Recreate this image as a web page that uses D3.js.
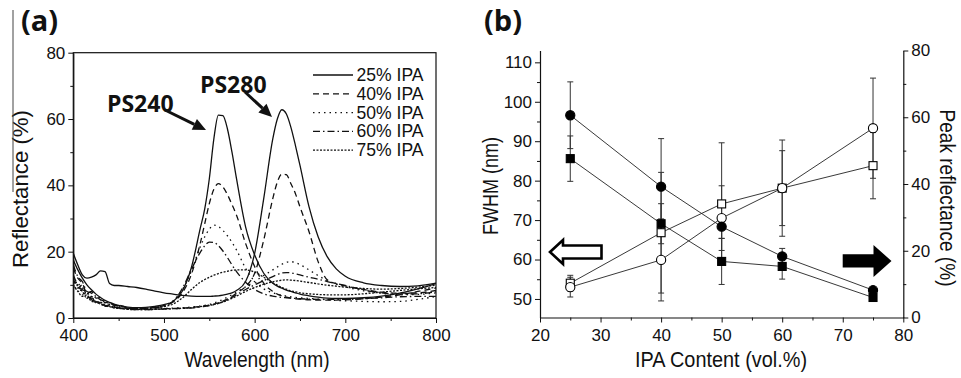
<!DOCTYPE html>
<html>
<head>
<meta charset="utf-8">
<script src="https://cdn.jsdelivr.net/npm/d3@7"></script>
<style>
  body { margin: 0; background: #fff; }
  svg { display: block; }
</style>
</head>
<body>
<div id="chart"></div>
<script>
// ---------- panel (a): reflectance spectra ----------
const wavelength = [400, 405, 410, 415, 420, 425, 430, 435, 440, 445, 450, 460, 470, 480, 490, 500, 510, 520, 530, 540,
  545, 550, 555, 560, 565, 570, 575, 580, 590, 600, 610, 620, 625, 630, 635, 640, 645, 650, 660, 670, 680, 690, 700,
  720, 740, 760, 780, 800];

// PS240 curves
const r25ps240 = [17.5, 14.5, 12, 10, 8.5, 7.2, 6.2, 5.3, 4.7, 4.2, 3.8, 3.3, 3.1, 3.2, 3.5, 4.0, 5.0, 8, 15, 27,
  33, 42, 54, 61.2, 61.0, 57, 50, 42, 27.5, 19, 13.5, 10.5, 9.6, 9, 8.4, 8, 7.6, 7.2, 6.7, 6.3, 6.0, 5.9, 5.9,
  6.1, 6.6, 7.5, 8.8, 10.4];
const r40ps240 = [15, 12, 10.5, 7.5, 8, 6, 6.2, 4.6, 4.8, 3.8, 3.9, 3.1, 2.8, 2.9, 3.2, 3.7, 4.8, 7.5, 13, 22.5,
  28.5, 34.5, 38.8, 40.5, 39.5, 37.2, 34.2, 31, 22.5, 15.5, 10.5, 8.0, 7.2, 6.7, 6.3, 6.0, 5.8, 5.7, 5.5, 5.4, 5.4, 5.4, 5.5,
  5.8, 6.3, 7.0, 8.0, 9.0];
const r50ps240 = [11, 8, 9, 6, 6.5, 5, 5.5, 4, 4.2, 3.5, 3.4, 3.0, 2.8, 2.9, 3.2, 3.8, 5.2, 8.5, 14, 21.5,
  24.5, 26.8, 28, 27.6, 26.4, 24.8, 22.8, 20.5, 15, 11, 8.8, 7.6, 7.2, 6.9, 6.6, 6.4, 6.2, 6.1, 5.9, 5.7, 5.5, 5.3, 5.2,
  5.0, 4.9, 5.0, 5.6, 6.5];
const r60ps240 = [16, 12.5, 11, 8, 7.5, 6.5, 5.5, 5, 4.3, 4, 3.6, 3.0, 2.8, 2.8, 3.1, 3.6, 5.0, 8.8, 14.5, 19.8,
  21.8, 22.9, 22.8, 21.8, 20.2, 18.2, 16, 14, 10.8, 8.6, 7.3, 6.6, 6.4, 6.2, 6.1, 6.0, 5.9, 5.8, 5.7, 5.6, 5.6, 5.6, 5.6,
  5.8, 6.1, 6.4, 6.5, 6.5];
const r75ps240 = [10, 8, 6.5, 7, 5, 4.8, 4.2, 3.7, 3.6, 3.3, 3.1, 2.9, 2.8, 2.9, 3.1, 3.4, 4.2, 6, 8.5, 10.8,
  11.6, 12.3, 12.9, 13.4, 13.8, 14.1, 14.4, 14.5, 14.5, 13.8, 12.3, 10.6, 9.9, 9.2, 8.7, 8.2, 7.9, 7.6, 7.3, 7.1, 7.0, 7.0, 7.0,
  7.3, 7.8, 8.3, 8.8, 9.2];

// PS280 curves
const r25ps280 = [19.5, 16, 13, 12, 12.3, 13, 14.2, 14.0, 10.4, 9.8, 9.8, 9.5, 9.2, 8.7, 8.1, 7.6, 7.2, 6.8, 6.6, 6.5,
  6.5, 6.5, 6.6, 6.7, 6.9, 7.2, 7.6, 8.3, 11, 19.5, 36, 54, 60, 62.8, 61.5, 57.5, 52, 46, 33.5, 24.5, 18.5, 14.8, 12.6,
  10.6, 9.8, 9.5, 9.7, 10.5];
const r40ps280 = [12, 9, 10, 6.5, 6, 5, 4.6, 3.5, 4, 3.2, 3.3, 2.8, 2.6, 2.6, 2.7, 2.8, 2.9, 3.0, 3.2, 3.5,
  3.7, 3.9, 4.2, 4.6, 5.1, 5.7, 6.5, 7.5, 9.5, 13.5, 23.5, 36, 41, 43.4, 43.2, 40.5, 37.5, 33.5, 26, 17, 11.5, 10.3, 9.7,
  8.6, 7.8, 7.5, 7.6, 8.3];
const r50ps280 = [9, 11, 7, 7.5, 5, 5.5, 4, 4.2, 3.3, 3.5, 3.0, 2.7, 2.6, 2.7, 2.8, 2.9, 3.0, 3.1, 3.3, 3.6,
  3.8, 4.1, 4.5, 5.0, 5.6, 6.3, 7.0, 7.8, 9.4, 11, 12.8, 14.5, 15.4, 16.2, 16.8, 17, 16.7, 16.1, 14.5, 12.8, 11.3, 10.2, 9.4,
  8.2, 7.4, 7.0, 7.1, 7.6];
const r60ps280 = [13, 10, 8.5, 8, 5.5, 5, 4.3, 3.8, 3.5, 3.1, 3.0, 2.7, 2.5, 2.5, 2.6, 2.7, 2.8, 2.9, 3.0, 3.3,
  3.5, 3.7, 4.0, 4.4, 4.9, 5.5, 6.2, 7.0, 8.6, 10, 11.3, 12.5, 13.1, 13.6, 13.7, 13.6, 13.3, 13.0, 12.3, 11.7, 11.0, 10.4, 9.8,
  8.5, 7.6, 7.2, 7.3, 7.9];
const r75ps280 = [12, 9.5, 8, 6, 6.5, 4.5, 4.8, 3.6, 3.4, 3.0, 2.9, 2.6, 2.5, 2.5, 2.6, 2.7, 2.8, 2.9, 3.1, 3.4,
  3.6, 3.8, 4.1, 4.4, 4.8, 5.3, 5.9, 6.6, 8.0, 9.2, 10.2, 10.9, 11.2, 11.4, 11.5, 11.4, 11.3, 11.1, 10.7, 10.3, 9.9, 9.6, 9.3,
  8.9, 8.7, 8.9, 9.3, 9.9];

const ipaLabels = ['25% IPA', '40% IPA', '50% IPA', '60% IPA', '75% IPA'];

// ---------- panel (b): FWHM and peak reflectance vs IPA ----------
const ipaContent = [25, 40, 50, 60, 75];
const fwhmCircle = [53.0, 59.9, 70.5, 78.1, 93.3];      // open circles, left axis
const fwhmCircleErr = [2.5, 10.4, 8.2, 12.2, 12.7];
const fwhmSquare = [54.0, 66.8, 74.1, 78.1, 83.8];      // open squares, left axis
const fwhmSquareErr = [2.0, 15.3, 15.5, 9.5, 8.4];
const peakCircle = [60.6, 39.2, 27.2, 18.3, 8.2];       // filled circles, right axis
const peakCircleErr = [10.0, 14.4, 3.5, 2.4, 0];
const peakSquare = [47.6, 28.1, 16.8, 15.3, 6.0];       // filled squares, right axis
const peakSquareErr = [6.8, 6.0, 6.9, 3.8, 0];

const FONT = "'Liberation Sans', Arial, sans-serif";
const INK = '#111';

const svg = d3.select('#chart').append('svg').attr('width', 961).attr('height', 378);

function styleAxis(g, withDomain) {
  g.attr('font-family', FONT).attr('font-size', 17);
  if (withDomain) g.select('.domain').attr('stroke', INK).attr('stroke-width', 1.2);
  else g.select('.domain').remove();
  g.selectAll('.tick line').attr('stroke', INK).attr('stroke-width', 1);
  g.selectAll('.tick text').attr('fill', INK);
}

function addAxis(axisFn, scale, translate, major, minor, pad) {
  const gMinor = svg.append('g').attr('transform', translate)
    .call(axisFn(scale).tickValues(minor).tickSize(3).tickFormat(''));
  styleAxis(gMinor, false);
  const g = svg.append('g').attr('transform', translate)
    .call(axisFn(scale).tickValues(major).tickSize(5).tickSizeOuter(0).tickPadding(pad).tickFormat(d3.format('d')));
  styleAxis(g, true);
  return g;
}

function addText(x, y, text, opts = {}) {
  const t = svg.append('text')
    .attr('x', x).attr('y', y)
    .attr('font-family', opts.family || FONT)
    .attr('font-size', opts.size || 19)
    .attr('font-weight', opts.weight || 'normal')
    .attr('text-anchor', opts.anchor || 'start')
    .attr('fill', INK)
    .text(text);
  if (opts.rotate) t.attr('transform', `rotate(${opts.rotate},${x},${y})`);
  if (opts.length) t.attr('textLength', opts.length).attr('lengthAdjust', 'spacingAndGlyphs');
  return t;
}

// ================= panel (a) =================
const xA = d3.scaleLinear().domain([400, 800]).range([73.3, 436]);
const yA = d3.scaleLinear().domain([0, 80]).range([318, 52.7]);

svg.append('clipPath').attr('id', 'clipA')
  .append('rect').attr('x', xA(400)).attr('y', yA(80)).attr('width', xA(800) - xA(400)).attr('height', yA(0) - yA(80));

const dashes = [null, '6,4', '1.5,4', '7,3,1.5,3', '2,1.5'];
const spectra = [
  { label: ipaLabels[0], dash: dashes[0], curves: [r25ps240, r25ps280] },
  { label: ipaLabels[1], dash: dashes[1], curves: [r40ps240, r40ps280] },
  { label: ipaLabels[2], dash: dashes[2], curves: [r50ps240, r50ps280] },
  { label: ipaLabels[3], dash: dashes[3], curves: [r60ps240, r60ps280] },
  { label: ipaLabels[4], dash: dashes[4], curves: [r75ps240, r75ps280] },
];

const specLine = d3.line()
  .x((d, i) => xA(wavelength[i]))
  .y(d => yA(d))
  .curve(d3.curveMonotoneX);

const gSpec = svg.append('g').attr('clip-path', 'url(#clipA)');
spectra.slice().reverse().forEach(s => {
  s.curves.forEach(c => {
    gSpec.append('path')
      .datum(c)
      .attr('d', specLine)
      .attr('fill', 'none')
      .attr('stroke', INK)
      .attr('stroke-width', 1.3)
      .attr('stroke-dasharray', s.dash);
  });
});

addAxis(d3.axisBottom, xA, `translate(0,${yA(0)})`, [400, 500, 600, 700, 800], [450, 550, 650, 750], 6);
addAxis(d3.axisLeft, yA, `translate(${xA(400)},0)`, [0, 20, 40, 60, 80], [10, 30, 50, 70], 3);
svg.append('rect')
  .attr('x', xA(400)).attr('y', yA(80))
  .attr('width', xA(800) - xA(400)).attr('height', yA(0) - yA(80))
  .attr('fill', 'none').attr('stroke', INK).attr('stroke-width', 1.2);

// legend
spectra.forEach((s, i) => {
  const ly = 75 + i * 18.8;
  svg.append('line')
    .attr('x1', 313).attr('x2', 353).attr('y1', ly).attr('y2', ly)
    .attr('stroke', INK).attr('stroke-width', 1.3).attr('stroke-dasharray', s.dash);
  addText(356.5, ly + 6, s.label, { size: 17.5, length: 67 });
});

// PS labels with arrows
function arrow(x1, y1, x2, y2) {
  const ang = Math.atan2(y2 - y1, x2 - x1);
  const len = 13, half = 6;
  const bx = x2 - len * Math.cos(ang), by = y2 - len * Math.sin(ang);
  svg.append('line').attr('x1', x1).attr('y1', y1).attr('x2', bx).attr('y2', by)
    .attr('stroke', INK).attr('stroke-width', 3);
  svg.append('polygon')
    .attr('points', [
      [x2, y2],
      [bx + half * Math.sin(ang), by - half * Math.cos(ang)],
      [bx - half * Math.sin(ang), by + half * Math.cos(ang)],
    ].map(p => p.join(',')).join(' '))
    .attr('fill', INK);
}
addText(107, 112, 'PS240', { family: "'Open Sans', sans-serif", size: 23, weight: 'bold' });
addText(200, 93, 'PS280', { family: "'Open Sans', sans-serif", size: 23, weight: 'bold' });
arrow(165, 110, 206, 130);
arrow(245, 92, 272, 117);

// axis titles (a)
addText(257, 367, 'Wavelength (nm)', { size: 22, anchor: 'middle', length: 145 });
addText(28, 189, 'Reflectance (%)', { size: 22, anchor: 'middle', rotate: -90, length: 158 });
svg.append('line').attr('x1', 13).attr('x2', 13).attr('y1', 10).attr('y2', 192)
  .attr('stroke', '#444').attr('stroke-width', 1);
addText(21, 31, '(a)', { family: "'Open Sans', sans-serif", size: 29, weight: 'bold' });

// ================= panel (b) =================
const xB = d3.scaleLinear().domain([20, 80]).range([540, 903.3]);
const yL = d3.scaleLinear().domain([45.3, 113]).range([317.5, 50.5]);
const yR = d3.scaleLinear().domain([0, 80]).range([317.5, 50.5]);

addAxis(d3.axisBottom, xB, `translate(0,${yL.range()[0]})`, [20, 30, 40, 50, 60, 70, 80], [25, 35, 45, 55, 65, 75], 6);
addAxis(d3.axisLeft, yL, `translate(${xB(20)},0)`, [50, 60, 70, 80, 90, 100, 110], [55, 65, 75, 85, 95, 105], 3);
addAxis(d3.axisRight, yR, `translate(${xB(80)},0)`, [0, 20, 40, 60, 80], [10, 30, 50, 70], 3);

const seriesB = [
  { values: fwhmSquare, err: fwhmSquareErr, y: yL, shape: 'square', filled: false },
  { values: fwhmCircle, err: fwhmCircleErr, y: yL, shape: 'circle', filled: false },
  { values: peakSquare, err: peakSquareErr, y: yR, shape: 'square', filled: true },
  { values: peakCircle, err: peakCircleErr, y: yR, shape: 'circle', filled: true },
];

const gErr = svg.append('g');
seriesB.forEach(s => {
  s.values.forEach((v, i) => {
    const e = s.err[i];
    if (!e) return;
    const x = xB(ipaContent[i]);
    const y0 = s.y(v - e), y1 = s.y(v + e);
    gErr.append('line').attr('x1', x).attr('x2', x).attr('y1', y0).attr('y2', y1)
      .attr('stroke', '#333').attr('stroke-width', 1);
    [y0, y1].forEach(yy => gErr.append('line')
      .attr('x1', x - 3).attr('x2', x + 3).attr('y1', yy).attr('y2', yy)
      .attr('stroke', '#333').attr('stroke-width', 1));
  });
});

seriesB.forEach(s => {
  const ln = d3.line().x((d, i) => xB(ipaContent[i])).y(d => s.y(d));
  svg.append('path').datum(s.values).attr('d', ln)
    .attr('fill', 'none').attr('stroke', '#222').attr('stroke-width', 0.9);
});

seriesB.forEach(s => {
  const g = svg.append('g');
  s.values.forEach((v, i) => {
    const x = xB(ipaContent[i]), y = s.y(v);
    const m = s.shape === 'circle'
      ? g.append('circle').attr('cx', x).attr('cy', y).attr('r', 4.6)
      : g.append('rect').attr('x', x - 4).attr('y', y - 4).attr('width', 8).attr('height', 8);
    m.attr('fill', s.filled ? '#000' : '#fff').attr('stroke', '#000').attr('stroke-width', 1.1);
  });
});

// direction arrows
svg.append('polygon')
  .attr('points', [[550, 252], [563, 240], [563, 245.5], [601.5, 245.5], [601.5, 258.5], [563, 258.5], [563, 264]]
    .map(p => p.join(',')).join(' '))
  .attr('fill', '#fff').attr('stroke', '#000').attr('stroke-width', 2.6).attr('stroke-linejoin', 'miter');
svg.append('polygon')
  .attr('points', [[891.5, 261], [873.5, 245], [873.5, 254.3], [842.7, 254.3], [842.7, 267.5], [873.5, 267.5], [873.5, 277]]
    .map(p => p.join(',')).join(' '))
  .attr('fill', '#000');

// axis titles (b)
addText(721, 367, 'IPA Content (vol.%)', { size: 22, anchor: 'middle', length: 172 });
addText(498, 186, 'FWHM (nm)', { size: 22, anchor: 'middle', rotate: -90, length: 98 });
addText(940, 198, 'Peak reflectance (%)', { size: 22, anchor: 'middle', rotate: 90, length: 177 });
addText(484, 31, '(b)', { family: "'Open Sans', sans-serif", size: 29, weight: 'bold' });
</script>
</body>
</html>
